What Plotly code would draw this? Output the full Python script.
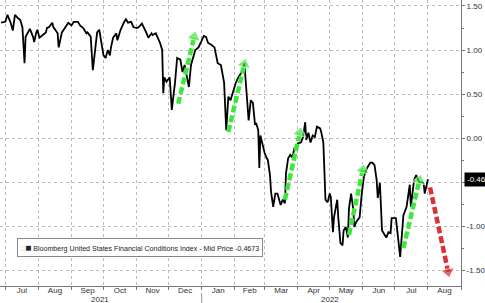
import plotly.graph_objects as go

dates = [
"2021-06-27","2021-07-01","2021-07-03","2021-07-06","2021-07-08","2021-07-10","2021-07-13","2021-07-15","2021-07-17","2021-07-19",
"2021-07-20","2021-07-22","2021-07-24","2021-07-27","2021-07-28","2021-07-30","2021-07-31","2021-08-02","2021-08-05","2021-08-08",
"2021-08-09","2021-08-11","2021-08-14","2021-08-15","2021-08-19","2021-08-20","2021-08-23","2021-08-26","2021-08-29","2021-09-01",
"2021-09-03","2021-09-07","2021-09-09","2021-09-12","2021-09-15","2021-09-16","2021-09-19","2021-09-21","2021-09-23","2021-09-25",
"2021-09-27","2021-09-29","2021-10-01","2021-10-03","2021-10-05","2021-10-07","2021-10-08","2021-10-10","2021-10-13","2021-10-14",
"2021-10-17","2021-10-20","2021-10-22","2021-10-24","2021-10-27","2021-10-29","2021-11-01","2021-11-03","2021-11-06","2021-11-10",
"2021-11-12","2021-11-15","2021-11-16","2021-11-19","2021-11-21","2021-11-23","2021-11-25","2021-11-26","2021-11-27","2021-11-29",
"2021-12-02","2021-12-04","2021-12-07","2021-12-09","2021-12-12","2021-12-14","2021-12-16","2021-12-18","2021-12-20","2021-12-22",
"2021-12-26","2021-12-29","2022-01-01","2022-01-03","2022-01-05","2022-01-07","2022-01-10","2022-01-13","2022-01-16","2022-01-19",
"2022-01-22","2022-01-24","2022-01-26","2022-01-28","2022-01-31","2022-02-02","2022-02-04","2022-02-07","2022-02-10","2022-02-14",
"2022-02-16","2022-02-18","2022-02-20","2022-02-21","2022-02-23","2022-02-24","2022-02-25","2022-02-27","2022-03-01","2022-03-03",
"2022-03-04","2022-03-06","2022-03-07","2022-03-09","2022-03-11","2022-03-13","2022-03-15","2022-03-16","2022-03-18","2022-03-20",
"2022-03-21","2022-03-23","2022-03-25","2022-03-27","2022-03-29","2022-03-31","2022-04-01","2022-04-04","2022-04-06","2022-04-08",
"2022-04-09","2022-04-11","2022-04-13","2022-04-15","2022-04-17","2022-04-19","2022-04-22","2022-04-23","2022-04-25","2022-04-27",
"2022-04-29","2022-05-01","2022-05-02","2022-05-04","2022-05-05","2022-05-08","2022-05-09","2022-05-11","2022-05-13","2022-05-14",
"2022-05-16","2022-05-18","2022-05-19","2022-05-21","2022-05-23","2022-05-24","2022-05-26","2022-05-29","2022-05-31","2022-06-02",
"2022-06-05","2022-06-08","2022-06-10","2022-06-12","2022-06-14","2022-06-15","2022-06-17","2022-06-19","2022-06-23","2022-06-25",
"2022-06-27","2022-06-28","2022-07-02","2022-07-04","2022-07-06","2022-07-09","2022-07-12","2022-07-15","2022-07-16","2022-07-19",
"2022-07-21","2022-07-24","2022-07-26","2022-07-28","2022-07-29","2022-08-01"]

values = [
1.31,1.32,1.40,1.31,1.22,1.40,1.36,1.34,1.26,0.85,
1.15,1.20,1.24,1.15,1.09,1.20,1.23,1.14,1.17,1.20,
1.25,1.26,1.31,1.26,1.19,1.03,1.20,1.26,1.31,1.28,
1.32,1.32,1.28,1.25,1.19,1.20,1.15,0.77,1.03,1.20,
1.23,1.09,0.94,0.91,1.00,0.94,1.03,1.14,1.19,1.11,
1.23,1.31,1.35,1.31,1.32,1.26,1.25,1.26,1.30,1.20,
1.14,1.19,1.17,1.19,1.14,1.08,1.00,0.51,0.69,0.64,
0.69,0.32,0.63,0.91,0.89,0.75,0.83,0.72,0.58,0.83,
1.00,1.03,1.11,1.16,1.15,1.08,1.06,1.03,0.85,0.83,
0.63,0.09,0.47,0.43,0.55,0.63,0.68,0.74,0.85,0.20,
0.43,0.40,0.15,0.17,0.09,-0.34,0.03,-0.08,-0.17,-0.23,
-0.25,-0.42,-0.61,-0.78,-0.63,-0.63,-0.70,-0.76,-0.70,-0.74,
-0.40,-0.23,-0.19,-0.22,-0.11,-0.14,-0.06,-0.05,0.01,0.18,
-0.02,0.06,-0.05,0.03,0.01,0.13,0.11,0.07,-0.05,-0.70,
-0.73,-0.63,-0.67,-1.07,-0.90,-0.70,-0.90,-1.19,-1.22,-1.05,
-1.01,-1.13,-0.80,-0.63,-0.80,-1.01,-0.95,-0.90,-0.63,-0.44,
-0.34,-0.28,-0.28,-0.31,-0.48,-0.68,-0.51,-1.05,-1.13,-1.07,
-1.08,-0.91,-0.91,-1.14,-1.35,-0.88,-0.78,-0.53,-0.78,-0.48,
-0.42,-0.51,-0.50,-0.51,-0.63,-0.4673]

last_value = -0.4673
last_label = "-0.46"
series_name = "Bloomberg United States Financial Conditions Index - Mid Price"

y_ticks = [-1.5, -1.0, -0.5, 0.0, 0.5, 1.0, 1.5]
y_ticktext = ["-1.50", "-1.00", "", "0.00", "0.50", "1.00", "1.50"]

years = ["2021", "2022"]
year_label_dates = ["2021-09-28", "2022-05-01"]
year_divider = "2022-01-01"

# annotation arrows: (start_date, start_val, end_date, end_val, colour)
arrows = [
    ("2021-12-10", 0.39, "2021-12-25", 1.15, "#3de83d"),
    ("2022-01-26", 0.07, "2022-02-10", 0.84, "#3de83d"),
    ("2022-03-20", -0.70, "2022-04-03", 0.06, "#3de83d"),
    ("2022-05-19", -1.10, "2022-06-01", -0.36, "#3de83d"),
    ("2022-07-09", -1.25, "2022-07-24", -0.48, "#3de83d"),
    ("2022-08-03", -0.56, "2022-08-20", -1.52, "#d9303a"),
]

FONT = "Liberation Sans, Arial, sans-serif"

fig = go.Figure()
fig.add_trace(go.Scatter(x=dates, y=values, mode="lines",
                         line=dict(color="black", width=1.8), showlegend=False,
                         hoverinfo="skip"))

for x0, y0, x1, y1, col in arrows:
    fig.add_trace(go.Scatter(
        x=[x0, x1], y=[y0, y1], mode="lines+markers",
        line=dict(color=col, width=4.5, dash="7px,3px"),
        marker=dict(symbol=["circle", "triangle-up"], size=[0, 12], color=col,
                    angleref="previous"),
        showlegend=False, hoverinfo="skip", cliponaxis=False))

fig.update_layout(
    width=485, height=303,
    margin=dict(l=0, r=21, t=0, b=17),
    paper_bgcolor="white", plot_bgcolor="white",
    font=dict(family=FONT, size=8, color="#333"),
    xaxis=dict(
        range=["2021-06-26", "2022-09-01"],
        type="date", dtick="M1", tick0="2021-07-01",
        tickformat="%b", ticklabelmode="period", ticklabelstandoff=-7,
        showgrid=True, gridcolor="#bbb", griddash="dot", gridwidth=1,
        showline=True, linecolor="#777", linewidth=1,
        ticks="outside", ticklen=3, tickcolor="#777",
        tickfont=dict(size=8, color="#333"), zeroline=False,
    ),
    yaxis=dict(
        range=[-1.68, 1.568], side="right",
        tickvals=y_ticks, ticktext=y_ticktext,
        showgrid=True, gridcolor="#bbb", griddash="dot", gridwidth=1,
        showline=True, linecolor="#777", linewidth=1,
        ticks="outside", ticklen=3, tickcolor="#777",
        minor=dict(dtick=0.25, ticks="outside", ticklen=2, tickcolor="#777", showgrid=False),
        tickfont=dict(size=8, color="#333"), zeroline=False,
    ),
)

fig.add_annotation(x=1, xref="paper", y=last_value, yref="y", xanchor="left",
                   xshift=3, text=last_label, showarrow=False,
                   bgcolor="black", font=dict(color="white", size=8, family=FONT),
                   borderpad=2)

fig.add_annotation(x=17/464, xref="paper", y=1-247.5/286, yref="paper",
                   xanchor="left", yanchor="middle", showarrow=False,
                   text=f"<span style='color:#bbb;font-size:7px'>□</span><span style='font-size:10px'>■</span> {series_name} {last_value}",
                   font=dict(size=7.1, color="#222", family=FONT),
                   bgcolor="white", bordercolor="#888", borderwidth=1, borderpad=3)

for yr, d in zip(years, year_label_dates):
    fig.add_annotation(x=d, xref="x", y=0, yref="paper", yanchor="top",
                       yshift=-7, text=yr, showarrow=False,
                       font=dict(size=8, color="#333"))
fig.add_shape(type="line", x0=year_divider, x1=year_divider, xref="x",
              y0=-0.025, y1=-0.07, yref="paper", line=dict(color="#999", width=1))

fig.write_html("out.html")
